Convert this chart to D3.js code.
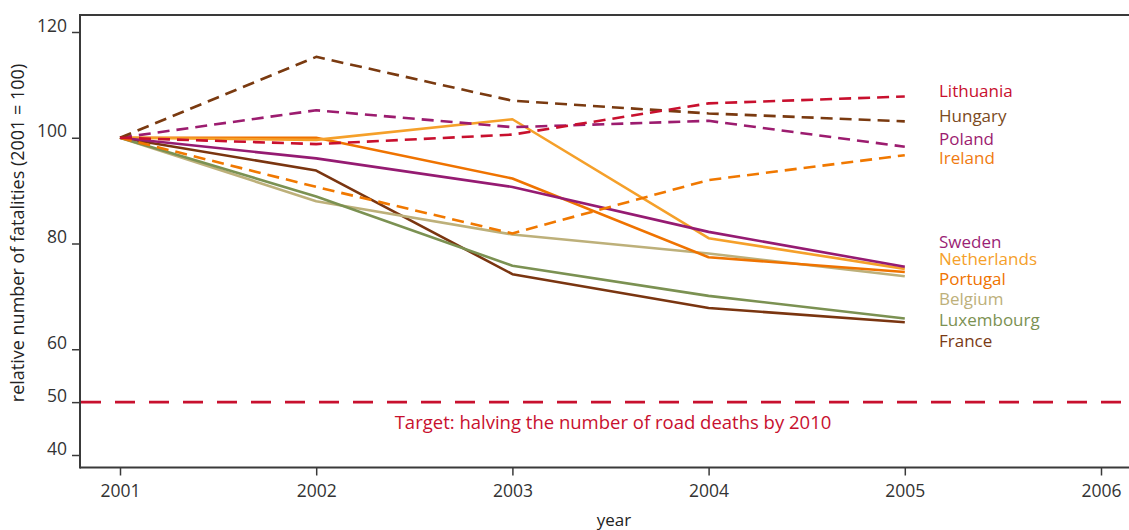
<!DOCTYPE html>
<html>
<head>
<meta charset="utf-8">
<script src="https://cdn.jsdelivr.net/npm/d3@7"></script>
<style>
  html, body { margin: 0; padding: 0; background: #fff; }
  svg { display: block; font-family: "Open Sans", "Noto Sans", sans-serif; }
</style>
</head>
<body>
<svg id="chart" width="1129" height="530"></svg>
<script>
// ---- data ----
const years = [2001, 2002, 2003, 2004, 2005];
const xTickLabels = [2001, 2002, 2003, 2004, 2005, 2006];
const yTickValues = [40, 50, 60, 80, 100, 120];
const targetValue = 50;
const targetLabel = "Target: halving the number of road deaths by 2010";

const countries = ["France", "Belgium", "Luxembourg", "Portugal", "Netherlands",
                   "Sweden", "Ireland", "Poland", "Hungary", "Lithuania"];
const France      = [100, 93.8, 74.2, 67.8, 65.1];
const Belgium     = [100, 88.0, 81.7, 78.1, 73.8];
const Luxembourg  = [100, 88.9, 75.8, 70.1, 65.8];
const Portugal    = [100, 100.0, 92.3, 77.4, 74.6];
const Netherlands = [100, 99.6, 103.5, 81.0, 75.2];
const Sweden      = [100, 96.1, 90.7, 82.2, 75.6];
const Ireland     = [100, 90.7, 81.9, 92.0, 96.7];
const Poland      = [100, 105.2, 102.0, 103.2, 98.3];
const Hungary     = [100, 115.3, 107.0, 104.6, 103.1];
const Lithuania   = [100, 98.8, 100.6, 106.5, 107.8];

const seriesValues = { France, Belgium, Luxembourg, Portugal, Netherlands,
                       Sweden, Ireland, Poland, Hungary, Lithuania };

// ---- styles (kept separate from data) ----
const style = {
  France:      { color: "#7a3510", label: "#7a3a15", dashed: false, ly: 341 },
  Belgium:     { color: "#bdb07a", label: "#bdb07a", dashed: false, ly: 299 },
  Luxembourg:  { color: "#7b9152", label: "#7b9152", dashed: false, ly: 320.5 },
  Portugal:    { color: "#ef7300", label: "#ef7300", dashed: false, ly: 279.5 },
  Netherlands: { color: "#f5a02a", label: "#f5a02a", dashed: false, ly: 259.5 },
  Sweden:      { color: "#951b72", label: "#9b1f76", dashed: false, ly: 242.5 },
  Ireland:     { color: "#f07800", label: "#f07a10", dashed: true,  ly: 158.5 },
  Poland:      { color: "#9c1c6f", label: "#9c1c6f", dashed: true,  ly: 139.5 },
  Hungary:     { color: "#7a3a10", label: "#7b4a22", dashed: true,  ly: 116.5 },
  Lithuania:   { color: "#c8102e", label: "#c8102e", dashed: true,  ly: 91.5 }
};

const svg = d3.select("#chart");
const x = d3.scaleLinear().domain([2001, 2006]).range([120, 1101]);
const y = d3.scaleLinear().domain([40, 120]).range([455, 32]);

const plotLeft = 80, plotRight = 1129, plotTop = 15, plotBottom = 467.5;
const axisColor = "#3a3a3a";
const textColor = "#333";

// frame
svg.append("line").attr("x1", plotLeft).attr("x2", plotRight).attr("y1", plotTop).attr("y2", plotTop)
  .attr("stroke", axisColor).attr("stroke-width", 2);

// y axis
const yAxis = svg.append("g").attr("transform", `translate(${plotLeft},0)`)
  .call(d3.axisLeft(y).tickValues(yTickValues).tickSize(8).tickPadding(5).tickFormat(d3.format("d")));
yAxis.select(".domain").remove();
yAxis.append("line").attr("x1", 0).attr("x2", 0).attr("y1", plotTop - 1).attr("y2", plotBottom + 1)
  .attr("stroke", axisColor).attr("stroke-width", 2);
yAxis.selectAll(".tick line").attr("stroke", axisColor).attr("stroke-width", 1.5);
yAxis.selectAll(".tick text").attr("fill", textColor).attr("font-size", 17.5)
  .attr("font-family", "'Open Sans', sans-serif").attr("dy", "-0.05em");

// x axis
const xAxis = svg.append("g").attr("transform", `translate(0,${plotBottom})`)
  .call(d3.axisBottom(x).tickValues(xTickLabels).tickSize(8).tickPadding(9).tickFormat(d3.format("d")));
xAxis.select(".domain").remove();
xAxis.append("line").attr("x1", plotLeft).attr("x2", plotRight).attr("y1", 0).attr("y2", 0)
  .attr("stroke", axisColor).attr("stroke-width", 2);
xAxis.selectAll(".tick line").attr("stroke", axisColor).attr("stroke-width", 1.5);
xAxis.selectAll(".tick text").attr("fill", textColor).attr("font-size", 17.5)
  .attr("font-family", "'Open Sans', sans-serif");

// axis titles
svg.append("text").attr("x", 614).attr("y", 526).attr("text-anchor", "middle")
  .attr("font-size", 17).attr("fill", "#222").text("year");
svg.append("text").attr("transform", "translate(24,233) rotate(-90)")
  .attr("text-anchor", "middle").attr("font-size", 18).attr("fill", "#222")
  .text("relative number of fatalities (2001 = 100)");

// series lines
const line = d3.line().x((d, i) => x(years[i])).y(d => y(d));
countries.forEach(c => {
  const s = style[c];
  svg.append("path")
    .datum(seriesValues[c])
    .attr("d", line)
    .attr("fill", "none")
    .attr("stroke", s.color)
    .attr("stroke-width", 2.6)
    .attr("stroke-linejoin", "round")
    .attr("stroke-dasharray", s.dashed ? "12,7" : null);
});

// target line
svg.append("line")
  .attr("x1", plotLeft + 1).attr("x2", plotRight)
  .attr("y1", y(targetValue)).attr("y2", y(targetValue))
  .attr("stroke", "#c8102e").attr("stroke-width", 2.6)
  .attr("stroke-dasharray", "20,14");
svg.append("text").attr("x", 613).attr("y", y(targetValue) + 27)
  .attr("text-anchor", "middle").attr("font-size", 18.5).attr("fill", "#c8102e")
  .text(targetLabel);

// country labels
countries.forEach(c => {
  const s = style[c];
  svg.append("text").attr("x", 939).attr("y", s.ly).attr("dy", "0.35em")
    .attr("font-size", 17).attr("fill", s.label).text(c);
});
</script>
</body>
</html>
